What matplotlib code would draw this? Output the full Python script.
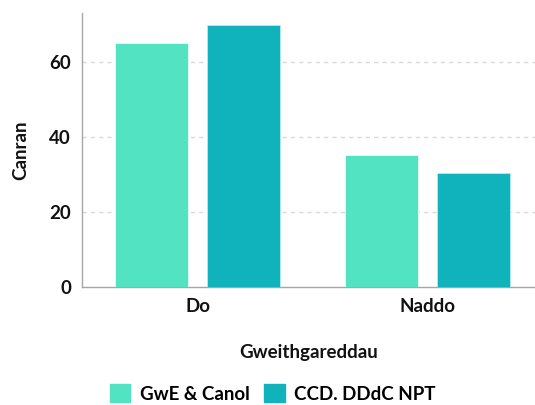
import numpy as np
import matplotlib.pyplot as plt
from matplotlib.patches import Patch

#: data
categories = ["Do", "Naddo"]
series_names = ["GwE & Canol", "CCD. DDdC NPT"]
gwe_values = [65.0, 35.0]
ccd_values = [69.6, 30.4]
series_colors = ["#52E3C2", "#10B3BC"]

plt.rcParams["font.family"] = ["Lato", "DejaVu Sans"]
FS = 13.5
TXT = "#111111"

fig = plt.figure(figsize=(5.35, 4.05), dpi=100)
ax = fig.add_axes([0.1533, 0.2914, 0.8467, 0.6772])

x = np.arange(len(categories))
width = 0.318
offset = 0.201
ax.bar(x - offset, gwe_values, width, color=series_colors[0], zorder=3,
       edgecolor="#E8FBF6", linewidth=0.6)
ax.bar(x + offset, ccd_values, width, color=series_colors[1], zorder=3,
       edgecolor="#B8ECEF", linewidth=0.6)

ax.set_xlim(-0.504, 1.468)
ax.set_ylim(0, 73)
ax.set_yticks([0, 20, 40, 60])
ax.set_xticks(x)
ax.set_xticklabels(categories)

#: gridlines (skip 0)
for yv in [20, 40, 60]:
    ax.axhline(yv, color="#D9D9D9", linestyle=(0, (3, 3)), linewidth=1, zorder=1)

for side in ["top", "right"]:
    ax.spines[side].set_visible(False)
for side in ["left", "bottom"]:
    ax.spines[side].set_color("#A6A6A6")
    ax.spines[side].set_linewidth(1)
ax.tick_params(length=0, labelsize=FS, pad=8, colors=TXT)
for lab in ax.get_xticklabels() + ax.get_yticklabels():
    lab.set_fontweight("bold")

ax.set_ylabel("Canran", fontsize=FS, fontweight="bold", labelpad=14, color=TXT)
ax.set_xlabel("Gweithgareddau", fontsize=FS, fontweight="bold", labelpad=21, color=TXT)

handles = [Patch(color=c, label=n) for c, n in zip(series_colors, series_names)]
fig.legend(handles=handles, loc="lower center", bbox_to_anchor=(0.51, -0.036), ncol=2,
           frameon=False, prop={"size": FS, "weight": "bold"},
           handlelength=1.1, handleheight=1.1, handletextpad=0.5, columnspacing=0.8)

fig.savefig("out.png", dpi=100)
